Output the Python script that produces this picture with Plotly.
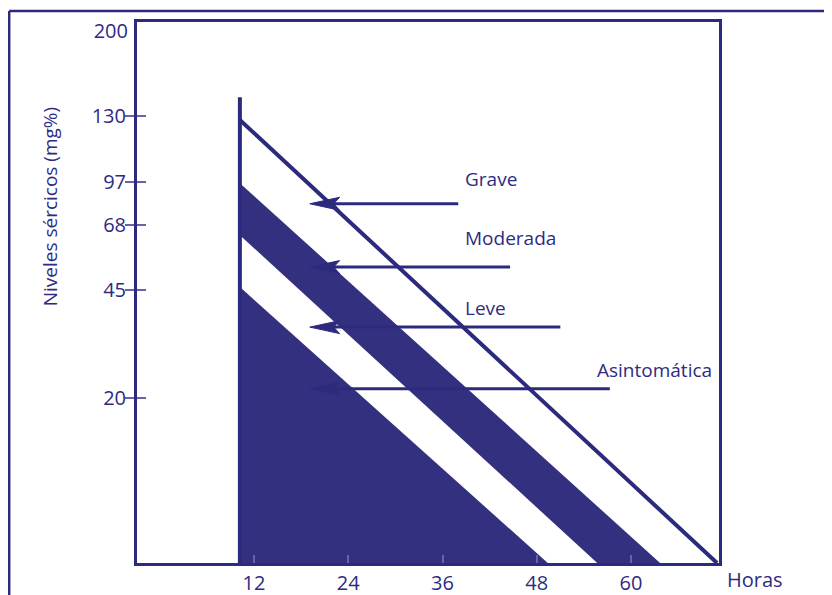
import plotly.graph_objects as go

# ---------------- data ----------------
hour_ticks = [12, 24, 36, 48, 60]
y_tick_labels = ["130", "97", "68", "45", "20"]
y_tick_pos = [82.7, 70.5, 62.5, 50.5, 30.5]          # positions on the drawing's (irregular) vertical scale
y_top_label = ["200"]
y_top_pos = [98.3]

start_hour = 10.2          # vertical reference line
vertical_top = 86.1

grave_start = 81.9         # upper limit line
grave_end_hour = 70.95

mod_upper_start = 70.2     # "Moderada" dark band
mod_upper_end_hour = 63.7
mod_lower_start = 60.6
mod_lower_end_hour = 55.7

asin_top = 51.0            # "Asintomática" dark triangle
asin_end_hour = 49.4

arrow_labels = ["Grave", "Moderada", "Leve", "Asintomática"]
arrow_y = [66.4, 54.7, 43.6, 32.2]
arrow_head_x = [19.1, 19.1, 19.1, 19.1]
arrow_tail_x = [38.0, 44.6, 51.0, 57.3]
label_x = [38.6, 38.6, 38.6, 55.4]
label_y = [71.0, 60.1, 47.1, 35.7]

# ---------------- style ----------------
NAVY = "#2c2a7d"
FILL = "#33317f"
TXT = "#2e2b82"
TICK = "#6664a6"
FONT = "Open Sans"
X_RANGE = [-2.9, 71.2]
Y_RANGE = [0, 100]
HEAD_LEN = 3.8     # arrow head length (hours)
HEAD_HALF = 1.2    # arrow head half height (scale units)

fig = go.Figure()

# Asintomática triangle
fig.add_trace(go.Scatter(
    x=[start_hour, asin_end_hour, start_hour, start_hour],
    y=[asin_top, 0, 0, asin_top],
    fill="toself", fillcolor=FILL, line=dict(width=0), mode="lines",
    hoverinfo="skip", showlegend=False))

# Moderada band
fig.add_trace(go.Scatter(
    x=[start_hour, mod_upper_end_hour, mod_lower_end_hour, start_hour, start_hour],
    y=[mod_upper_start, 0, 0, mod_lower_start, mod_upper_start],
    fill="toself", fillcolor=FILL, line=dict(width=0), mode="lines",
    hoverinfo="skip", showlegend=False))

# Grave line
fig.add_trace(go.Scatter(
    x=[start_hour, grave_end_hour], y=[grave_start, 0],
    mode="lines", line=dict(color=NAVY, width=4), hoverinfo="skip", showlegend=False))

# vertical line
fig.add_trace(go.Scatter(
    x=[start_hour, start_hour], y=[0, vertical_top],
    mode="lines", line=dict(color=NAVY, width=4), hoverinfo="skip", showlegend=False))

# arrows
for hx, tx, ay in zip(arrow_head_x, arrow_tail_x, arrow_y):
    fig.add_trace(go.Scatter(
        x=[hx + HEAD_LEN * 0.6, tx], y=[ay, ay],
        mode="lines", line=dict(color=NAVY, width=3), hoverinfo="skip", showlegend=False))
    fig.add_trace(go.Scatter(
        x=[hx, hx + HEAD_LEN, hx + HEAD_LEN * 0.8, hx + HEAD_LEN, hx],
        y=[ay, ay + HEAD_HALF, ay, ay - HEAD_HALF, ay],
        fill="toself", fillcolor=NAVY, line=dict(color=NAVY, width=1), mode="lines",
        hoverinfo="skip", showlegend=False))

# dummy traces to anchor the overlay axes
fig.add_trace(go.Scatter(x=[None], y=[None], yaxis="y2", showlegend=False, hoverinfo="skip"))
fig.add_trace(go.Scatter(x=[None], y=[None], yaxis="y3", showlegend=False, hoverinfo="skip"))

annotations = []
for txt, lx, ly in zip(arrow_labels, label_x, label_y):
    annotations.append(dict(x=lx, y=ly, xref="x", yref="y", text=txt, showarrow=False,
                            xanchor="left", yanchor="middle",
                            font=dict(family=FONT, size=19, color=TXT)))
annotations.append(dict(x=-0.149, y=0.658, xref="paper", yref="paper",
                        text="Niveles sércicos (mg%)", textangle=-90, showarrow=False,
                        xanchor="center", yanchor="middle",
                        font=dict(family=FONT, size=19, color=TXT)))
annotations.append(dict(x=1.062, y=-0.031, xref="paper", yref="paper",
                        text="Horas", showarrow=False, xanchor="center", yanchor="middle",
                        font=dict(family=FONT, size=20, color=TXT)))

shapes = [
    dict(type="line", xref="paper", yref="paper", x0=-0.2196, x1=-0.2196, y0=1.0203, y1=-0.1,
         line=dict(color=NAVY, width=2.5)),
    dict(type="line", xref="paper", yref="paper", x0=-0.2196, x1=1.25, y0=1.0203, y1=1.0203,
         line=dict(color=NAVY, width=2.5)),
]

fig.update_layout(
    width=832, height=595,
    margin=dict(l=129, r=121, t=14, b=40),
    paper_bgcolor="white", plot_bgcolor="white",
    showlegend=False,
    annotations=annotations, shapes=shapes,
    xaxis=dict(range=X_RANGE, tickvals=hour_ticks, ticktext=[str(h) for h in hour_ticks],
               ticks="inside", ticklen=8, tickwidth=2, tickcolor=TICK, automargin=False,
               showline=True, mirror=True, linecolor=NAVY, linewidth=3,
               showgrid=False, zeroline=False,
               tickfont=dict(family=FONT, size=20, color=TXT)),
    yaxis=dict(range=Y_RANGE, tickvals=y_tick_pos, ticktext=y_tick_labels,
               ticks="outside", ticklen=9, tickwidth=2, tickcolor=TICK, automargin=False,
               ticklabelstandoff=-5,
               showline=True, mirror=True, linecolor=NAVY, linewidth=3,
               showgrid=False, zeroline=False,
               tickfont=dict(family=FONT, size=20, color=TXT)),
    yaxis2=dict(range=Y_RANGE, overlaying="y", side="left", tickvals=y_tick_pos,
                ticks="inside", ticklen=9, tickwidth=2, tickcolor=TICK, automargin=False,
                showticklabels=False, showgrid=False, zeroline=False, showline=False),
    yaxis3=dict(range=Y_RANGE, overlaying="y", side="left", tickvals=y_top_pos,
                ticktext=y_top_label, ticks="outside", ticklen=9, tickcolor="rgba(0,0,0,0)",
                ticklabelstandoff=-5,
                showgrid=False, zeroline=False, showline=False, automargin=False,
                tickfont=dict(family=FONT, size=20, color=TXT)),
)

fig.write_html("out.html")
